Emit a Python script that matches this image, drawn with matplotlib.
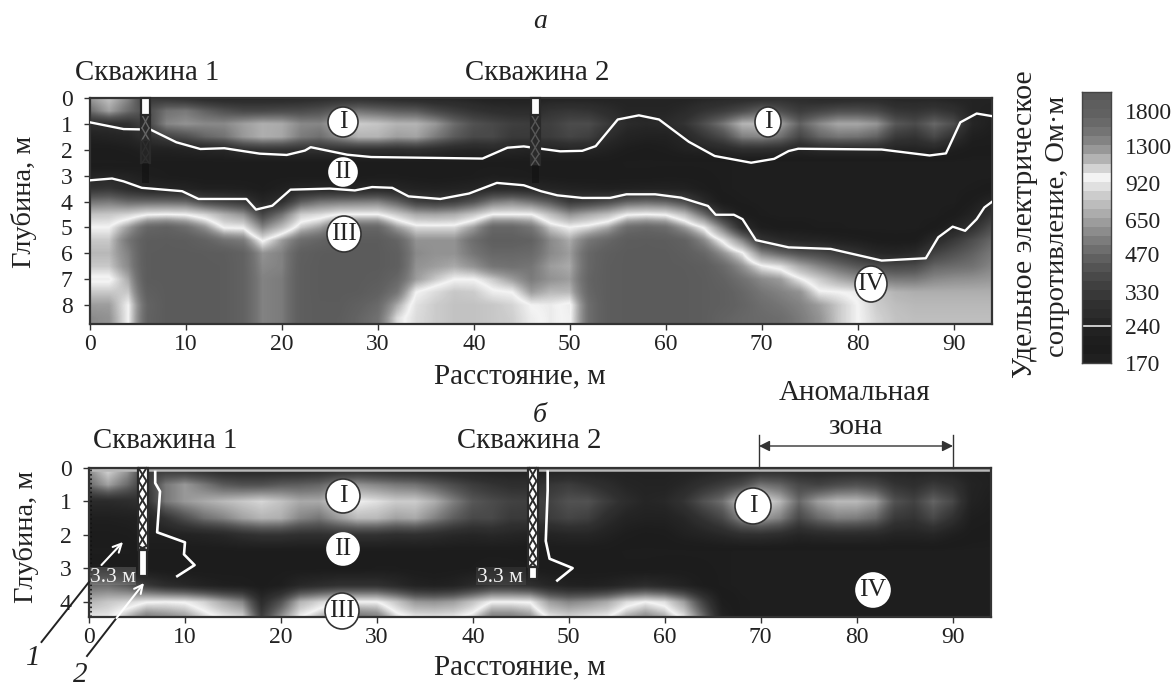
"""Resistivity sections along the profile, panels a and b."""
import matplotlib

matplotlib.use("Agg")
import matplotlib.pyplot as plt
import numpy as np
from matplotlib.colors import LinearSegmentedColormap
from matplotlib.patches import Ellipse, Rectangle

plt.rcParams["font.family"] = ["Liberation Serif", "DejaVu Serif"]

W, H = 1175, 688
INK = "#333333"

distance = list(range(0, 96, 2))
distance_ticks = [0, 10, 20, 30, 40, 50, 60, 70, 80, 90]

# resistivity, Ohm*m; one row per 0.5 m of depth, one value per 2 m of distance
rho_a = [
    [620, 780, 560, 320, 300, 280, 260, 250, 250, 250, 250, 260, 270, 280, 280, 270, 260, 250, 240, 240, 230, 220, 220, 220, 230, 230, 230, 230, 230, 230, 230, 230, 240, 250, 260, 270, 280, 270, 250, 250, 260, 260, 240, 240, 240, 230, 230, 230],
    [480, 650, 480, 380, 500, 520, 450, 400, 370, 370, 380, 380, 400, 450, 500, 470, 440, 430, 370, 330, 300, 280, 270, 270, 300, 310, 300, 270, 240, 240, 240, 260, 300, 330, 380, 450, 390, 330, 360, 390, 390, 370, 310, 300, 320, 290, 230, 220],
    [280, 280, 290, 360, 560, 600, 570, 570, 640, 700, 680, 570, 560, 680, 820, 790, 720, 720, 620, 480, 400, 370, 340, 330, 340, 380, 380, 320, 260, 250, 260, 300, 390, 510, 720, 750, 640, 450, 570, 670, 670, 610, 420, 380, 470, 390, 240, 210],
    [220, 230, 240, 290, 350, 390, 460, 500, 620, 700, 670, 530, 490, 590, 720, 720, 640, 660, 530, 430, 370, 370, 320, 320, 330, 360, 340, 270, 230, 220, 220, 245, 310, 380, 540, 560, 490, 360, 460, 510, 500, 450, 320, 300, 370, 290, 210, 200],
    [190, 190, 200, 220, 220, 230, 240, 250, 290, 300, 300, 290, 290, 290, 290, 290, 280, 290, 270, 250, 240, 250, 240, 230, 230, 240, 240, 220, 200, 190, 200, 220, 230, 250, 280, 280, 270, 240, 260, 260, 260, 260, 230, 230, 240, 210, 190, 190],
    [180, 180, 180, 190, 190, 190, 190, 190, 190, 190, 190, 190, 190, 190, 190, 190, 190, 190, 190, 190, 190, 190, 190, 190, 190, 190, 190, 190, 180, 180, 180, 180, 180, 180, 175, 175, 175, 175, 175, 175, 175, 175, 175, 175, 175, 175, 175, 175],
    [230, 235, 225, 205, 195, 190, 185, 185, 185, 185, 190, 190, 190, 190, 190, 195, 195, 190, 185, 190, 195, 205, 200, 195, 190, 185, 185, 185, 185, 185, 190, 190, 185, 180, 175, 175, 175, 175, 175, 175, 175, 175, 175, 175, 175, 175, 175, 175],
    [300, 310, 270, 240, 235, 230, 215, 215, 210, 195, 215, 240, 245, 245, 245, 250, 240, 225, 220, 225, 235, 260, 260, 250, 235, 225, 220, 215, 220, 225, 225, 220, 200, 180, 175, 175, 175, 175, 175, 175, 175, 175, 175, 175, 175, 175, 180, 190],
    [500, 520, 470, 470, 470, 460, 370, 340, 310, 240, 280, 430, 500, 520, 530, 540, 450, 340, 320, 340, 400, 520, 560, 500, 420, 320, 340, 380, 450, 470, 450, 380, 260, 190, 180, 175, 175, 175, 175, 175, 175, 175, 175, 175, 175, 175, 200, 240],
    [780, 800, 850, 960, 980, 960, 850, 700, 600, 360, 500, 820, 880, 980, 980, 980, 820, 680, 660, 690, 800, 980, 980, 980, 760, 600, 680, 760, 950, 980, 950, 760, 480, 280, 200, 180, 175, 175, 175, 175, 175, 175, 175, 175, 175, 190, 230, 310],
    [980, 980, 1250, 1700, 1800, 1600, 1300, 960, 950, 560, 760, 1100, 1250, 1600, 1700, 1700, 1250, 1050, 1050, 1050, 1250, 1700, 1700, 1500, 1100, 980, 1050, 1200, 1600, 1700, 1600, 1250, 950, 520, 270, 205, 190, 190, 180, 180, 175, 175, 175, 175, 190, 230, 290, 390],
    [1100, 1100, 1500, 2000, 2050, 2000, 1800, 1550, 1450, 950, 1250, 1600, 1750, 2000, 2050, 2050, 1750, 1300, 1300, 1300, 1600, 1900, 1900, 1800, 1350, 1200, 1500, 1700, 2000, 2050, 2000, 1800, 1350, 930, 560, 300, 260, 240, 235, 220, 210, 195, 190, 195, 260, 320, 390, 470],
    [1150, 1150, 1400, 2050, 2080, 2080, 2050, 2000, 1800, 1300, 1400, 1900, 2050, 2080, 2080, 2080, 1900, 1350, 1300, 1300, 1500, 1700, 1700, 1650, 1350, 1250, 1700, 1950, 2080, 2080, 2080, 1950, 1700, 1300, 1000, 560, 460, 400, 370, 330, 290, 250, 240, 260, 350, 400, 450, 520],
    [1100, 1100, 1350, 2050, 2080, 2080, 2080, 2050, 1800, 1350, 1400, 1950, 2070, 2080, 2080, 2080, 1900, 1300, 1250, 1200, 1300, 1500, 1550, 1500, 1250, 1200, 1700, 2000, 2080, 2080, 2080, 2050, 1950, 1650, 1300, 1000, 900, 680, 560, 480, 420, 380, 370, 380, 460, 480, 500, 560],
    [950, 950, 1200, 2050, 2080, 2080, 2080, 2050, 1800, 1400, 1450, 1950, 2070, 2080, 2080, 2000, 1700, 1250, 1100, 980, 980, 1100, 1250, 1450, 1300, 1250, 1750, 2000, 2080, 2080, 2080, 2070, 2000, 1800, 1550, 1350, 1250, 1000, 820, 680, 600, 540, 520, 520, 570, 590, 600, 620],
    [1100, 1100, 1100, 1900, 2080, 2080, 2080, 2050, 1800, 1400, 1450, 1950, 2070, 2080, 2050, 1850, 1500, 980, 880, 800, 820, 950, 980, 1250, 1150, 1150, 1700, 2000, 2080, 2080, 2080, 2070, 2000, 1900, 1700, 1500, 1400, 1300, 1000, 980, 940, 800, 720, 700, 700, 700, 700, 700],
    [1250, 1250, 980, 1750, 2080, 2080, 2080, 2050, 1800, 1400, 1450, 1950, 2050, 2050, 1850, 1650, 1200, 900, 820, 780, 780, 800, 850, 980, 1000, 950, 1600, 2000, 2080, 2080, 2080, 2070, 2000, 1900, 1750, 1600, 1500, 1400, 1250, 1100, 980, 820, 760, 740, 740, 740, 740, 740],
    [1350, 1300, 980, 1800, 2080, 2080, 2080, 2050, 1800, 1400, 1450, 1950, 2050, 2000, 1750, 1550, 1050, 880, 820, 780, 780, 800, 830, 950, 1000, 960, 1600, 2000, 2080, 2080, 2080, 2070, 2000, 1800, 1700, 1650, 1600, 1450, 1300, 1100, 980, 850, 780, 760, 760, 760, 760, 760],
]
rho_b = [
    [600, 900, 650, 320, 300, 280, 260, 240, 235, 235, 235, 240, 250, 260, 260, 250, 240, 235, 230, 225, 220, 215, 215, 215, 220, 220, 220, 220, 220, 220, 220, 220, 220, 230, 240, 250, 255, 250, 240, 240, 240, 240, 230, 225, 225, 220, 215, 215],
    [480, 650, 480, 310, 520, 620, 520, 430, 400, 400, 430, 440, 460, 540, 600, 560, 520, 500, 440, 380, 330, 300, 280, 280, 310, 330, 300, 270, 240, 230, 230, 250, 290, 330, 380, 500, 460, 370, 350, 380, 400, 370, 300, 280, 320, 290, 230, 215],
    [260, 260, 270, 290, 520, 620, 680, 740, 800, 860, 780, 680, 680, 840, 960, 900, 820, 820, 700, 540, 420, 380, 350, 340, 350, 400, 400, 330, 270, 240, 250, 300, 400, 490, 780, 930, 740, 470, 640, 740, 740, 640, 400, 350, 460, 370, 225, 205],
    [210, 210, 215, 225, 300, 390, 490, 550, 650, 720, 700, 560, 510, 630, 750, 740, 650, 680, 550, 440, 370, 370, 320, 320, 330, 360, 340, 270, 230, 220, 220, 245, 300, 370, 560, 640, 550, 370, 470, 540, 530, 470, 320, 300, 370, 290, 205, 195],
    [190, 190, 195, 215, 215, 225, 235, 250, 280, 300, 300, 285, 285, 290, 295, 295, 280, 285, 270, 250, 240, 250, 240, 230, 230, 240, 240, 220, 200, 190, 195, 215, 230, 250, 280, 285, 270, 240, 255, 260, 260, 255, 230, 230, 240, 210, 190, 185],
    [180, 180, 180, 190, 190, 190, 190, 190, 190, 190, 190, 190, 190, 190, 190, 190, 190, 190, 190, 190, 190, 190, 190, 190, 190, 190, 190, 190, 180, 180, 180, 180, 180, 180, 175, 175, 175, 175, 175, 175, 175, 175, 175, 175, 175, 175, 175, 175],
    [200, 200, 195, 190, 185, 185, 185, 185, 185, 185, 190, 190, 190, 190, 190, 195, 195, 190, 185, 190, 195, 205, 200, 195, 190, 185, 185, 185, 185, 185, 190, 190, 185, 180, 175, 175, 175, 175, 175, 175, 175, 175, 175, 175, 175, 175, 175, 175],
    [480, 480, 420, 320, 270, 250, 225, 210, 205, 190, 205, 250, 270, 290, 290, 290, 260, 225, 215, 225, 260, 300, 300, 280, 240, 220, 215, 225, 250, 270, 250, 225, 195, 180, 175, 175, 175, 175, 175, 175, 175, 175, 175, 175, 175, 175, 175, 175],
    [720, 800, 850, 960, 980, 960, 850, 680, 560, 270, 400, 720, 850, 960, 980, 980, 800, 620, 600, 640, 780, 980, 980, 960, 640, 560, 600, 680, 880, 980, 900, 640, 350, 200, 180, 175, 175, 175, 175, 175, 175, 175, 175, 175, 175, 175, 175, 175],
    [950, 950, 1200, 1500, 1400, 1300, 1100, 980, 900, 350, 620, 1000, 1200, 1400, 1600, 1500, 1100, 980, 960, 980, 1100, 1500, 1500, 1350, 980, 900, 960, 1000, 1250, 1400, 1250, 960, 500, 230, 180, 175, 175, 175, 175, 175, 175, 175, 175, 175, 175, 175, 175, 175],
]

# white boundaries of panel a
upper_x = [0, 3.5, 6.3, 9, 11.5, 14, 17.7, 20.5, 22.4, 23, 26.8, 29.3, 40.9, 43.5, 45.2, 49, 51.3, 52.7, 55, 57.2, 59.3, 62.4, 65.1, 68.9, 71.3, 72.8, 73.8, 82.5, 87.5, 89.2, 90.7, 92.4, 94]
upper_z = [0.94, 1.2, 1.22, 1.71, 1.97, 1.94, 2.15, 2.2, 2.03, 1.9, 2.19, 2.28, 2.34, 1.92, 1.87, 2.06, 2.04, 1.86, 0.83, 0.67, 0.83, 1.69, 2.24, 2.5, 2.35, 2.05, 1.96, 1.99, 2.22, 2.14, 0.94, 0.6, 0.7]
lower_x = [0, 2.3, 3.5, 5.4, 9.6, 11.3, 16.3, 17.3, 19, 20.9, 25, 27.6, 29.4, 31.5, 33.2, 36.5, 39.5, 42.4, 45.2, 47, 48.7, 51.3, 54.2, 55.9, 58.9, 61.6, 64.4, 65.2, 67.1, 68, 69.4, 72.8, 77.2, 82.5, 87.1, 88.4, 89.9, 91.2, 92.4, 93.2, 94]
lower_z = [3.18, 3.11, 3.22, 3.47, 3.6, 3.9, 3.9, 4.31, 4.16, 3.54, 3.5, 3.57, 3.44, 3.47, 3.8, 3.9, 3.69, 3.28, 3.37, 3.6, 3.76, 3.86, 3.86, 3.72, 3.72, 3.85, 4.17, 4.51, 4.51, 4.68, 5.49, 5.77, 5.83, 6.28, 6.19, 5.38, 4.97, 5.13, 4.68, 4.23, 4.01]

# logs next to the wells in panel b
log1_x = [6.9, 6.9, 7.4, 7.1, 10, 9.9, 11, 9.2]
log1_z = [0.12, 0.45, 0.7, 1.92, 2.22, 2.58, 2.9, 3.23]
log2_x = [47.8, 47.8, 47.6, 48, 50.4, 48.8]
log2_z = [0.11, 0.67, 2.18, 2.71, 2.99, 3.36]

# colour scale, bottom band first
cbar_values = [170, 240, 330, 470, 650, 920, 1300, 1800]
cbar_greys = [0x20, 0x1c, 0x1e, 0x22, 0x26, 0x2c, 0x30, 0x38, 0x40, 0x4a, 0x54, 0x60, 0x6e, 0x7c, 0x8c,
              0x9c, 0xac, 0xbc, 0xcc, 0xe0, 0xf4, 0xd4, 0xb4, 0x98, 0x84, 0x74, 0x6a, 0x62, 0x5e, 0x5a]

RHO_MIN, RHO_MAX = 170, 2150
cmap = LinearSegmentedColormap.from_list(
    "rho", [(g / 255, g / 255, g / 255) for g in cbar_greys], N=512
)


def px_axes(left, top, right, bottom):
    return fig.add_axes([left / W, 1 - bottom / H, (right - left) / W, (bottom - top) / H])


def section(ax, rho, zmax, zticks):
    z = np.log10(np.array(rho, dtype=float))
    ax.imshow(
        z,
        cmap=cmap,
        vmin=np.log10(RHO_MIN),
        vmax=np.log10(RHO_MAX),
        extent=[distance[0] - 1, distance[-1] + 1, (len(rho) - 0.5) * 0.5, -0.25],
        aspect="auto",
        interpolation="bilinear",
    )
    ax.set_xlim(0, 94)
    ax.set_ylim(zmax, 0)
    ax.set_xticks(distance_ticks)
    ax.set_yticks(zticks)
    ax.tick_params(labelsize=17, length=4.5, width=1, color=INK, labelcolor="#222222")
    ax.tick_params(axis="x", pad=3)
    ax.tick_params(axis="y", pad=8)
    for s in ax.spines.values():
        s.set_color(INK)
        s.set_linewidth(1.6)


fig = plt.figure(figsize=(W / 100, H / 100), dpi=100)

ax_a = px_axes(90, 98, 992, 324)
section(ax_a, rho_a, 8.73, list(range(9)))
ax_a.plot(upper_x, upper_z, color="white", lw=1.7, zorder=5, solid_joinstyle="round")
ax_a.plot(lower_x, lower_z, color="white", lw=1.7, zorder=5, solid_joinstyle="round")

ax_b = px_axes(89, 468, 991, 617)
section(ax_b, rho_b, 4.45, list(range(5)))
ax_b.axhline(0.05, color="#b8b8b8", lw=1.8, zorder=2)
ax_b.axvline(0.25, color="#111111", lw=1.2, ls=":", zorder=2)
ax_b.plot(log1_x, log1_z, color="white", lw=1.9, zorder=5)
ax_b.plot(log2_x, log2_z, color="white", lw=1.9, zorder=5)

ax_c = px_axes(1082, 92, 1111, 363)
ax_c.imshow(
    np.array(cbar_greys[::-1])[:, None],
    cmap="gray",
    vmin=0,
    vmax=255,
    extent=[0, 1, np.log10(RHO_MIN), np.log10(RHO_MAX)],
    aspect="auto",
    interpolation="nearest",
)
ax_c.axhline(np.log10(240), color="#d8d8d8", lw=1.3)
ax_c.set_xticks([])
ax_c.yaxis.tick_right()
ax_c.set_yticks(np.log10(cbar_values), [str(v) for v in cbar_values])
ax_c.tick_params(axis="y", length=0, labelsize=17, pad=10, labelcolor="#222222")
for s in ax_c.spines.values():
    s.set_color("#444444")
    s.set_linewidth(1)

# everything placed by eye goes on a pixel overlay
ov = fig.add_axes([0, 0, 1, 1], facecolor="none")
ov.set_xlim(0, W)
ov.set_ylim(H, 0)
ov.axis("off")


def label(x, y, s, size=21, **kw):
    ov.text(x, y, s, fontsize=size, ha=kw.pop("ha", "center"), va=kw.pop("va", "center"),
            color=kw.pop("color", "#222222"), **kw)


def badge(x, y, s, w=30, h=30, edge=INK):
    ov.add_patch(Ellipse((x, y), w, h, fc="white", ec=edge, lw=1.2, zorder=6))
    ov.text(x, y, s, fontsize=18.5, ha="center", va="center", color="#222222", zorder=7)


def lattice(x0, x1, y0, y1, fc, line, lw=1.2, pitch=13):
    ov.add_patch(Rectangle((x0, y0), x1 - x0, y1 - y0, fc=fc, ec="#2a2a2a", lw=1.6, zorder=3))
    ys = list(range(int(y0), int(y1) + pitch, pitch))
    for i, (a, b) in enumerate(zip(ys[:-1], ys[1:])):
        b = min(b, y1)
        ov.plot([x0 + 1, x1 - 1], [a, b], color=line, lw=lw, zorder=4)
        ov.plot([x1 - 1, x0 + 1], [a, b], color=line, lw=lw, zorder=4)


def white_cell(x0, x1, y0, y1):
    ov.add_patch(Rectangle((x0, y0), x1 - x0, y1 - y0, fc="white", ec="#2a2a2a", lw=1.6, zorder=4))


# wells, panel a
lattice(141, 150, 115, 140, "#2c2c2c", "#666666", lw=1)
lattice(141, 150, 140, 163, "#242424", "#2e2e2e", lw=1)
ov.add_patch(Rectangle((142, 163), 7, 20, fc="#111111", ec="none", alpha=0.6, zorder=3))
white_cell(141, 150, 98, 115)
lattice(530.5, 540, 115, 165, "#2a2a2a", "#585858", lw=1)
ov.add_patch(Rectangle((531.5, 165), 7, 18, fc="#111111", ec="none", alpha=0.6, zorder=3))
white_cell(530.5, 540, 98, 115)

# wells, panel b
lattice(137.5, 147.5, 468, 550, "white", "#2a2a2a", lw=1.4)
white_cell(138.5, 146.5, 550, 576)
lattice(528, 537.5, 468, 567, "white", "#2a2a2a", lw=1.4)
white_cell(529, 536.5, 567, 579)

label(540, 21, "а", style="italic", size=20)
label(540, 415, "б", style="italic", size=20)
label(147, 73, "Скважина 1", size=20.8)
label(537, 73, "Скважина 2", size=20.8)
label(165, 441, "Скважина 1", size=20.8)
label(529, 441, "Скважина 2", size=20.8)
label(520, 376, "Расстояние, м")
label(520, 667, "Расстояние, м")
label(24, 202, "Глубина, м", rotation=90, size=20.5)
label(26, 537, "Глубина, м", rotation=90, size=20.5)
label(855, 393, "Аномальная")
label(855, 427, "зона")
label(1025, 224, "Удельное электрическое", rotation=90, size=21.4)
label(1058, 226, "сопротивление, Ом·м", rotation=90, size=20.5)

badge(343, 122, "I")
badge(343, 172, "II", w=28, h=28, edge="white")
badge(344, 234, "III", w=34, h=36)
badge(768, 122, "I", w=26, h=30)
badge(871, 284, "IV", w=32, h=36)
badge(343, 496, "I", w=34, h=34)
badge(343, 549, "II", w=32, h=32, edge="white")
badge(342, 611, "III", w=34, h=36)
badge(753, 506, "I", w=36, h=36)
badge(873, 590, "IV", w=34, h=34, edge="white")

# anomalous zone bracket
ov.plot([759, 759], [435, 468], color=INK, lw=1)
ov.plot([953, 953], [435, 468], color=INK, lw=1)
ov.annotate("", xy=(759, 446), xytext=(953, 446),
            arrowprops=dict(arrowstyle="<|-|>", color=INK, lw=1, mutation_scale=16, shrinkA=0, shrinkB=0))

# callouts 1 and 2
ov.add_patch(Rectangle((90, 567), 46, 18, fc="#a0a0a0", ec="none", alpha=0.28))
ov.add_patch(Rectangle((476, 567), 50, 18, fc="#a0a0a0", ec="none", alpha=0.12))
label(113, 577, "3.3 м", size=15.5, color="#f2f2f2")
label(500, 577, "3.3 м", size=15.5, color="#f2f2f2")
ov.plot([41.5, 89], [642, 582], color="#222222", lw=1.4)
ov.plot([87, 116.5], [656, 618], color="#222222", lw=1.4)
ov.annotate("", xy=(144, 583), xytext=(116.5, 618),
            arrowprops=dict(arrowstyle="->", color="white", lw=1.5, mutation_scale=15, shrinkA=0, shrinkB=0))
ov.annotate("", xy=(123, 542), xytext=(101.5, 565),
            arrowprops=dict(arrowstyle="->", color="white", lw=1.5, mutation_scale=15, shrinkA=0, shrinkB=0))
label(33, 658, "1", style="italic")
label(80, 675, "2", style="italic")

fig.savefig("out.png", dpi=100)
